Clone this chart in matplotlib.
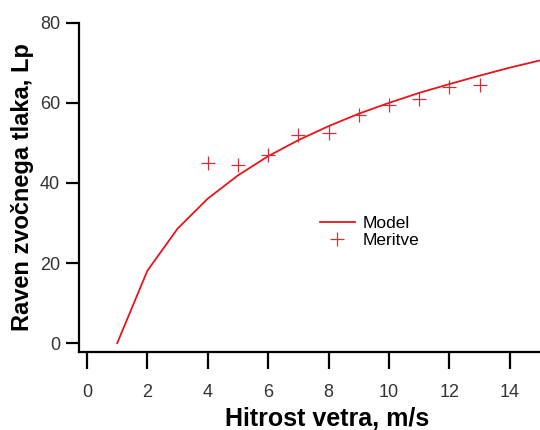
import matplotlib
matplotlib.use("Agg")
import matplotlib.pyplot as plt

plt.rcParams['font.family'] = ['Liberation Sans', 'DejaVu Sans']

# model curve
hitrost_model = [1, 2, 3, 4, 5, 6, 7, 8, 9, 10, 11, 12, 13, 14, 15]
raven_model = [0, 18.1, 28.6, 36.1, 41.9, 46.7, 50.7, 54.2, 57.3, 60.0, 62.5, 64.7, 66.8, 68.8, 70.6]

# measurements
hitrost_meritve = [4, 5, 6, 7, 8, 9, 10, 11, 12, 13]
raven_meritve = [45, 44.5, 47, 52, 52.5, 57, 59.5, 61, 64, 64.5]

xticks = [0, 2, 4, 6, 8, 10, 12, 14]
yticks = [0, 20, 40, 60, 80]

fig = plt.figure(figsize=(5.4, 4.3), dpi=100)
ax = fig.add_axes([0.146, 0.181, 0.854, 0.766])

ax.plot(hitrost_model, raven_model, color='#e8141c', lw=1.3, label='Model')
ax.plot(hitrost_meritve, raven_meritve, ls='none', marker='+', ms=10, mew=0.9,
        color='#d0303a', label='Meritve')

ax.set_xlim(-0.27, 15)
ax.set_ylim(-2.25, 80)
ax.set_xticks(xticks)
ax.set_yticks(yticks)

for s in ['top', 'right']:
    ax.spines[s].set_visible(False)
for s in ['left', 'bottom']:
    ax.spines[s].set_linewidth(1.6)
ax.tick_params(axis='x', length=12, width=1.6, pad=11, labelsize=13, labelcolor='#333333')
ax.tick_params(axis='y', length=9.5, width=1.6, pad=4, labelsize=13, labelcolor='#333333')

ax.set_xlabel('Hitrost vetra, m/s', fontsize=18, fontweight='bold')
ax.set_ylabel('Raven zvočnega tlaka, Lp', fontsize=17, fontweight='bold', labelpad=4)
ax.xaxis.set_label_coords(0.538, -0.165)

ax.legend(loc='center left', bbox_to_anchor=(0.523, 0.365), frameon=False, fontsize=12.5,
          handlelength=2.0, handletextpad=0.45, labelspacing=0.1, borderpad=0,
          borderaxespad=0)

fig.savefig('out.png', dpi=100)
